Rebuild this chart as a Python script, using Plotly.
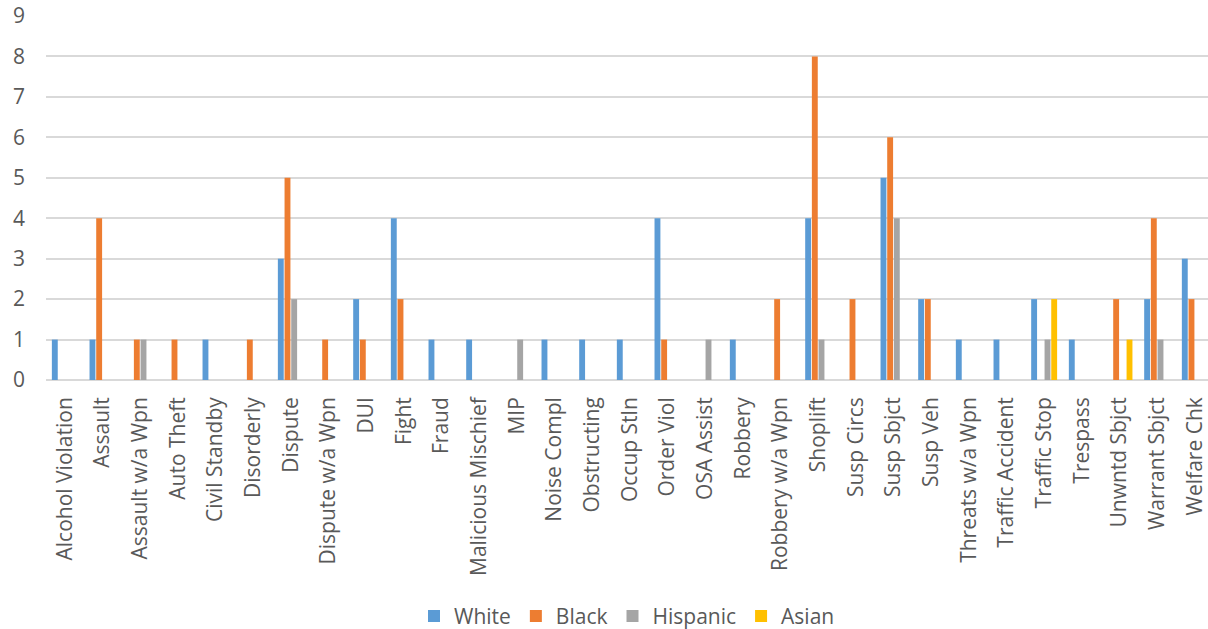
import plotly.graph_objects as go

categories = ["Alcohol Violation", "Assault", "Assault w/a Wpn", "Auto Theft", "Civil Standby",
              "Disorderly", "Dispute", "Dispute w/a Wpn", "DUI", "Fight", "Fraud",
              "Malicious Mischief", "MIP", "Noise Compl", "Obstructing", "Occup Stln",
              "Order Viol", "OSA Assist", "Robbery", "Robbery w/a Wpn", "Shoplift",
              "Susp Circs", "Susp Sbjct", "Susp Veh", "Threats w/a Wpn", "Traffic Accident",
              "Traffic Stop", "Trespass", "Unwntd Sbjct", "Warrant Sbjct", "Welfare Chk"]

white    = [1, 1, 0, 0, 1, 0, 3, 0, 2, 4, 1, 1, 0, 1, 1, 1, 4, 0, 1, 0, 4, 0, 5, 2, 1, 1, 2, 1, 0, 2, 3]
black    = [0, 4, 1, 1, 0, 1, 5, 1, 1, 2, 0, 0, 0, 0, 0, 0, 1, 0, 0, 2, 8, 2, 6, 2, 0, 0, 0, 0, 2, 4, 2]
hispanic = [0, 0, 1, 0, 0, 0, 2, 0, 0, 0, 0, 0, 1, 0, 0, 0, 0, 1, 0, 0, 1, 0, 4, 0, 0, 0, 1, 0, 0, 1, 0]
asian    = [0, 0, 0, 0, 0, 0, 0, 0, 0, 0, 0, 0, 0, 0, 0, 0, 0, 0, 0, 0, 0, 0, 0, 0, 0, 0, 2, 0, 1, 0, 0]

series = [("White", white, "#5B9BD5"), ("Black", black, "#ED7D31"),
          ("Hispanic", hispanic, "#A5A5A5"), ("Asian", asian, "#FFC000")]

FONT = "Open Sans"
fig = go.Figure()
for name, vals, col in series:
    fig.add_trace(go.Bar(x=list(range(len(categories))), y=vals, name=name,
                         marker=dict(color=col, line=dict(width=0))))

fig.update_layout(
    width=1208, height=629,
    margin=dict(l=46, r=0, t=16, b=249, autoexpand=False),
    paper_bgcolor="white", plot_bgcolor="white",
    barmode="group", bargap=0.29, bargroupgap=0.12,
    font=dict(family=FONT, color="#595959", size=21),
    legend=dict(orientation="h", x=0.5, xanchor="center", y=-0.649, yanchor="middle",
                font=dict(size=21, color="#595959"), itemwidth=30, traceorder="normal"),
    xaxis=dict(tickmode="array", tickvals=list(range(len(categories))), ticktext=categories,
               range=[-0.5, 30.35], tickangle=-90, showgrid=False, zeroline=False,
               showline=False, ticks="", ticklabelstandoff=12, automargin=False,
               tickfont=dict(size=21, color="#595959")),
    yaxis=dict(range=[0, 9], dtick=1, showgrid=True, gridcolor="#D9D9D9", gridwidth=1.5,
               zeroline=True, zerolinecolor="#D9D9D9", zerolinewidth=1.5,
               showline=False, ticks="", ticklabelstandoff=20, automargin=False,
               tickfont=dict(size=21, color="#595959")),
)

fig.write_html("out.html", config={"displayModeBar": False},
               post_script="document.body.style.margin='0';document.body.style.overflow='hidden';")
